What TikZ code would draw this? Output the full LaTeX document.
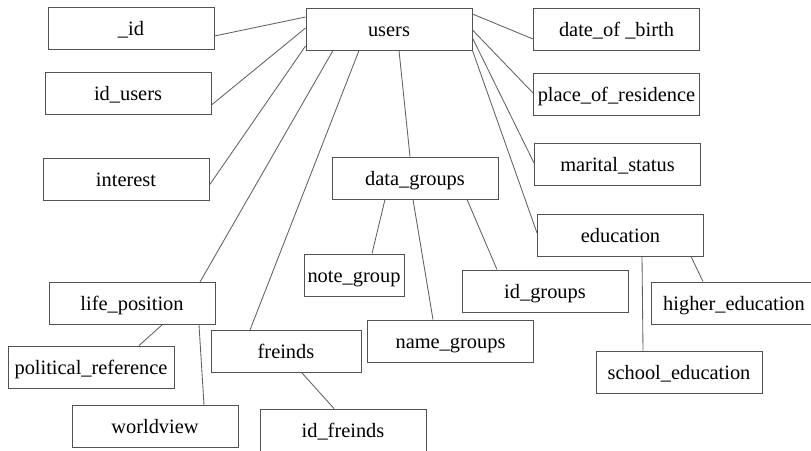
\documentclass[tikz,border=0pt]{standalone}
\usepackage{fontspec}
\setmainfont{Liberation Serif}
\usepackage{tikz}
\usetikzlibrary{positioning}

\begin{document}
\begin{tikzpicture}[x=1pt,y=-1pt,
	field/.style={draw=black!68,line width=0.95pt,fill=white,minimum height=42pt,minimum width=166pt,inner sep=0pt,text height=18.5pt,text depth=4.5pt,font=\fontsize{20.4}{24}\selectfont},
	link/.style={draw=black!62,line width=0.85pt}]
	\path[use as bounding box,clip] (0,0) rectangle (811,450);

	% main entity and its direct fields
	\node[field](users) at (389,29) {users};
	\node[field](id) at (131,28) {\_id};
	\node[field](idusers) at (128,93.5) {id\_users};
	\node[field](interest) at (126,179) {interest};
	\node[field](dob) at (616.5,29.5) {date\_of \_birth};
	\node[field](place) at (616.5,94.5) {place\_of\_residence};
	\node[field](marital) at (617.5,164) {marital\_status};
	\node[field](education) at (620.5,235) {education};
	\node[field](datagroups) at (415,178) {data\_groups};
	\node[field](lifeposition) at (132,303.5) {life\_position};
	\node[field,minimum width=150pt](freinds) at (286,351.5) {freinds};

	% second level
	\node[field,minimum width=100pt](notegroup) at (354,275) {note\_group};
	\node[field](idgroups) at (545,291) {id\_groups};
	\node[field](namegroups) at (450.5,341) {name\_groups};
	\node[field](higheredu) at (734,303) {higher\_education};
	\node[field](schooledu) at (679,372) {school\_education};
	\node[field](political) at (91,367) {political\_reference};
	\node[field](worldview) at (155,426.5) {worldview};
	\node[field](idfreinds) at (343,430) {id\_freinds};

	\path [link]
		([yshift=12pt]users.west) edge node {} ([yshift=-8pt]id.east)
		([yshift=1pt]users.west) edge node {} ([yshift=-11.5pt]idusers.east)
		([yshift=-17pt]users.west) edge node {} ([yshift=-6pt]interest.east)
		([xshift=-56pt]users.south) edge node {} ([xshift=68pt]lifeposition.north)
		([xshift=-30pt]users.south) edge node {} ([xshift=-36pt]freinds.north)
		([xshift=10pt]users.south) edge node {} ([xshift=-5pt]datagroups.north)
		([yshift=15pt]users.east) edge node {} ([yshift=-9.5pt]dob.west)
		([yshift=-1pt]users.east) edge node {} ([yshift=1.5pt]place.west)
		([yshift=-9pt]users.east) edge node {} ([yshift=1pt]marital.west)
		(users.south east) edge node {} ([yshift=2pt]education.west)
		([xshift=-30pt]datagroups.south) edge node {} ([xshift=18pt]notegroup.north)
		([xshift=-2pt]datagroups.south) edge node {} ([xshift=-17.5pt]namegroups.north)
		([xshift=52pt]datagroups.south) edge node {} ([xshift=-48pt]idgroups.north)
		([xshift=16pt]freinds.south) edge node {} ([xshift=-9pt]idfreinds.north)
		([xshift=30pt]lifeposition.south) edge node {} ([xshift=48pt]political.north)
		([xshift=67pt]lifeposition.south) edge node {} ([xshift=49pt]worldview.north)
		([xshift=21.5pt]education.south) edge node {} ([xshift=-36pt]schooledu.north)
		([xshift=70.5pt]education.south) edge node {} ([xshift=-31pt]higheredu.north);
\end{tikzpicture}
\end{document}
